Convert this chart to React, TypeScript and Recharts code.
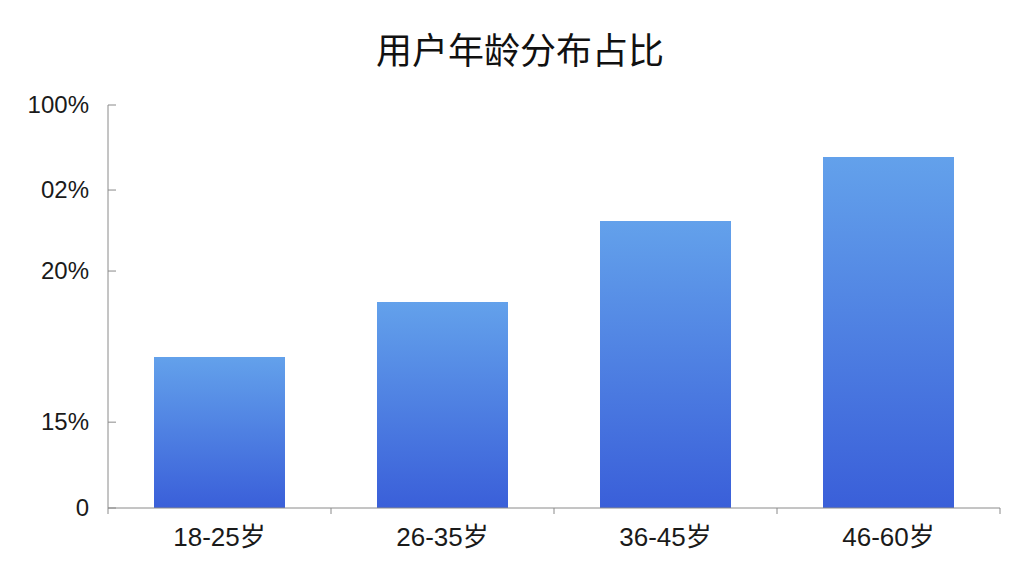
import { BarChart, Bar, XAxis, YAxis } from 'recharts'

// 年龄段
const CATEGORIES = ['18-25岁', '26-35岁', '36-45岁', '46-60岁']
// bar heights in axis units (0 = baseline, 100 = top tick)
const SHARE = [37.5, 51.1, 71.2, 87.1]
// the axis ticks are spaced unevenly in the picture, labels kept as drawn
const TICK_VALUES = [0, 21.3, 58.8, 78.9, 100]
const TICK_LABELS = ['0', '15%', '20%', '02%', '100%']

const W = 1024
const H = 576
const X_H = 30
const M = { top: 105, right: 24, bottom: 68 - X_H, left: 0 }
const Y_W = 108
const BAND = (W - Y_W - M.right) / CATEGORIES.length
const FONT = '"Liberation Sans", Arial, "Noto Sans CJK SC", sans-serif'
const AXIS = '#8a8a8a'

const data = CATEGORIES.map((age, i) => ({ age, share: SHARE[i] }))

function YTick(props: any) {
  const { x, y, payload, index } = props
  return (
    <g>
      <line x1={x} x2={x + 8} y1={y} y2={y} stroke={AXIS} strokeWidth={1} />
      <text x={x - 19} y={y} dy={8} textAnchor="end" fill="#1a1a1a" fontSize={24} fontFamily={FONT}>
        {TICK_LABELS[TICK_VALUES.indexOf(payload.value)] ?? TICK_LABELS[index]}
      </text>
    </g>
  )
}

function XTick(props: any) {
  const { x, y, payload, index } = props
  return (
    <g>
      {index === 0 && <line x1={x - BAND / 2} x2={x - BAND / 2} y1={y} y2={y + 6} stroke={AXIS} />}
      <line x1={x + BAND / 2} x2={x + BAND / 2} y1={y} y2={y + 6} stroke={AXIS} />
      <text x={x} y={y + 38} textAnchor="middle" fill="#1a1a1a" fontSize={26} fontFamily={FONT}>
        {payload.value}
      </text>
    </g>
  )
}

export default function App() {
  return (
    <div style={{ position: 'absolute', left: 0, top: 0, width: W, height: H, background: '#fff', fontFamily: FONT }}>
      <div style={{
        position: 'absolute', top: 22, left: 0, width: 1040, textAlign: 'center',
        fontSize: 36, color: '#111', fontFamily: '"Noto Sans CJK SC", sans-serif', fontWeight: 400,
      }}>
        用户年龄分布占比
      </div>
      <BarChart width={W} height={H} data={data} margin={M}>
        <defs>
          <linearGradient id="gradBar" x1="0" y1="0" x2="0" y2="1">
            <stop offset="0%" stopColor="#63a1eb" />
            <stop offset="100%" stopColor="#3a5fd9" />
          </linearGradient>
        </defs>
        <XAxis
          dataKey="age" height={X_H} stroke={AXIS} tickLine={false} tickSize={0} tickMargin={0}
          tick={<XTick />} interval={0}
        />
        <YAxis
          domain={[0, 100]} ticks={TICK_VALUES} width={Y_W} stroke={AXIS}
          tickLine={false} tickSize={0} tickMargin={0} tick={<YTick />} interval={0}
        />
        <Bar dataKey="share" fill="url(#gradBar)" barSize={131} isAnimationActive={false} />
      </BarChart>
    </div>
  )
}
